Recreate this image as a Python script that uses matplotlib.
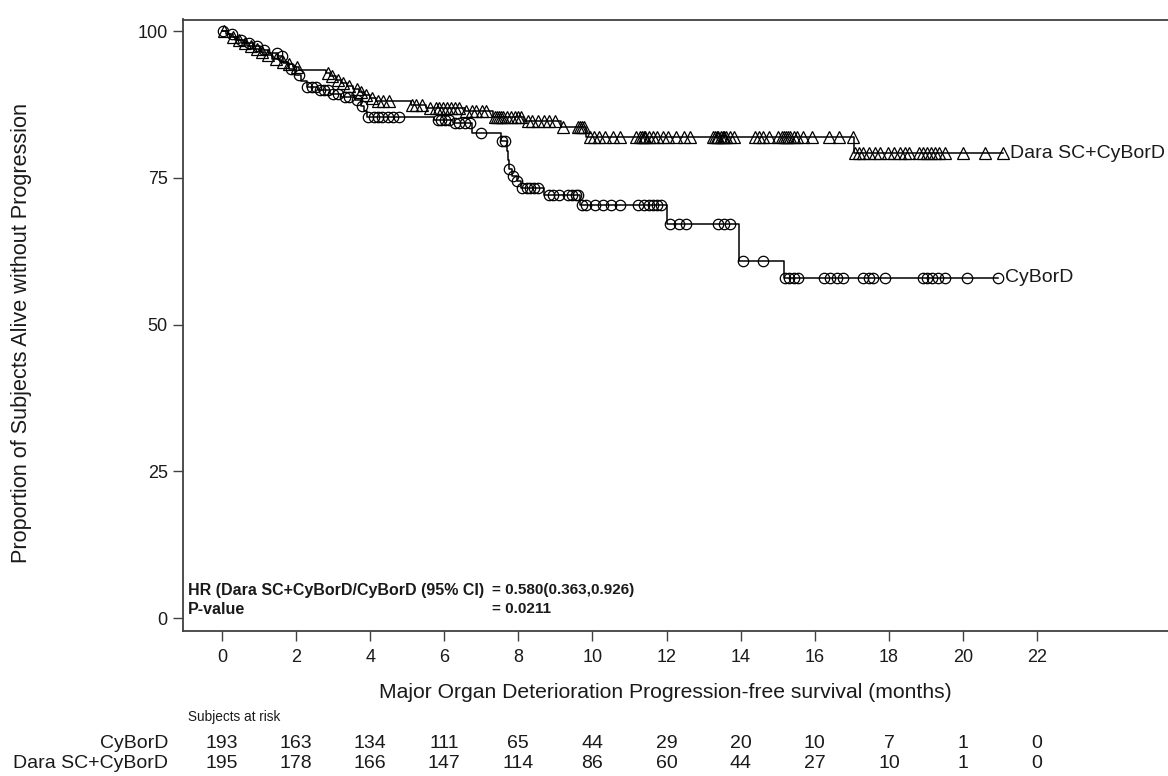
import numpy as np
import matplotlib
matplotlib.use("Agg")
import matplotlib.pyplot as plt
import matplotlib.transforms as mtransforms

plt.rcParams['font.family'] = ['Liberation Sans', 'DejaVu Sans']

# ---------------- data ----------------
arms = ["CyBorD", "Dara SC+CyBorD"]

cyb_event_t = [0.16, 0.31, 0.47, 0.62, 0.83, 1.04, 1.25, 1.51, 1.66, 1.82, 1.97, 2.13, 2.29, 2.6, 2.91,
               3.22, 3.58, 3.74, 3.84, 3.91, 5.71, 6.23, 6.75, 7.52, 7.69, 7.72, 7.74, 7.82, 7.95,
               8.08, 8.68, 9.66, 12.02, 13.95, 15.16]
cyb_event_s = [99.5, 99.0, 98.4, 97.9, 97.4, 96.8, 96.3, 95.7, 94.6, 93.5, 92.5, 91.4, 90.5, 89.9, 89.3,
               88.7, 88.2, 87.2, 86.3, 85.3, 84.8, 84.3, 82.6, 81.3, 79.6, 78.1, 76.5, 75.3, 74.4,
               73.2, 72.1, 70.4, 67.1, 60.8, 58.0]
cyb_censor_t = [0.02, 0.26, 0.52, 0.73, 0.94, 1.14, 1.5, 1.61, 1.87, 2.08, 2.29, 2.44, 2.55, 2.65, 2.75,
                2.86, 3.01, 3.12, 3.32, 3.43, 3.64, 3.79, 3.95, 4.1, 4.21, 4.31, 4.47, 4.62, 4.78,
                5.82, 5.92, 6.03, 6.13, 6.29, 6.39, 6.55, 6.7, 6.99, 7.55, 7.64, 7.74, 7.85, 7.95,
                8.1, 8.23, 8.31, 8.42, 8.52, 8.83, 8.94, 9.09, 9.35, 9.45, 9.56, 9.61,
                9.71, 9.82, 10.08, 10.29, 10.49, 10.75, 11.22, 11.38, 11.53, 11.64, 11.74, 11.84,
                12.1, 12.34, 12.51, 13.4, 13.56, 13.71, 14.06, 14.6,
                15.19, 15.31, 15.43, 15.55, 16.25, 16.42, 16.6, 16.76, 17.3, 17.46, 17.56, 17.89,
                18.91, 19.03, 19.17, 19.32, 19.52, 20.11, 20.95]

dara_event_t = [0.1, 0.21, 0.36, 0.52, 0.68, 0.83, 0.99, 1.14, 1.35, 1.56, 1.77, 1.92, 2.08, 2.81, 2.91,
                3.07, 3.22, 3.38, 3.53, 3.69, 3.84, 4.0, 4.16, 5.09, 5.51, 6.55, 7.32, 8.16, 9.14,
                9.83, 17.06]
dara_event_s = [99.5, 99.0, 98.5, 97.9, 97.4, 96.9, 96.4, 95.9, 95.3, 94.8, 94.3, 93.8, 93.3, 92.8, 92.3,
                91.7, 91.2, 90.7, 90.1, 89.6, 89.1, 88.6, 88.0, 87.4, 86.9, 86.4, 85.3, 84.6, 83.6,
                82.0, 79.2]
dara_censor_t = [0.05, 0.31, 0.47, 0.62, 0.78, 0.94, 1.09, 1.25, 1.45, 1.66, 1.82, 2.03, 2.86, 2.96, 3.12,
                 3.27, 3.43, 3.64, 3.74, 3.9, 4.05, 4.21, 4.36, 4.52, 5.14, 5.25, 5.4,
                 5.61, 5.77, 5.87, 5.97, 6.08, 6.18, 6.29, 6.39, 6.6, 6.75, 6.86, 7.01, 7.12,
                 7.38, 7.43, 7.48, 7.53, 7.58, 7.69, 7.79, 7.9, 8.0, 8.08,
                 8.26, 8.36, 8.52, 8.68, 8.83, 8.99, 9.2, 9.61, 9.66, 9.71, 9.77,
                 9.92, 10.03, 10.18, 10.34, 10.55, 10.75, 11.17, 11.27, 11.33, 11.38, 11.43, 11.53,
                 11.64, 11.74, 11.9, 12.05, 12.26, 12.47, 12.62, 13.25, 13.3, 13.35, 13.4, 13.46,
                 13.51, 13.56, 13.61, 13.71, 13.82, 14.39, 14.49, 14.6, 14.75, 15.01, 15.12, 15.17,
                 15.22, 15.27, 15.32, 15.43, 15.53, 15.69, 15.91, 16.39, 16.65, 17.03,
                 17.09, 17.2, 17.3, 17.46, 17.61, 17.77, 17.97, 18.13, 18.29, 18.44, 18.55,
                 18.82, 18.93, 19.03, 19.14, 19.24, 19.35, 19.51, 20.0, 20.58, 21.07]

risk_times = [0, 2, 4, 6, 8, 10, 12, 14, 16, 18, 20, 22]
risk_cyb = [193, 163, 134, 111, 65, 44, 29, 20, 10, 7, 1, 0]
risk_dara = [195, 178, 166, 147, 114, 86, 60, 44, 27, 10, 1, 0]

y_ticks = [0, 25, 50, 75, 100]
hr_label = "HR (Dara SC+CyBorD/CyBorD (95% CI)"
hr_value = "= 0.580(0.363,0.926)"
p_label = "P-value"
p_value = "= 0.0211"

# ---------------- figure ----------------
W, H = 1168, 776
fig = plt.figure(figsize=(W / 100, H / 100), dpi=100)
ax = fig.add_axes([183 / W, 1 - 631 / H, 1 - 183 / W, (631 - 19.5) / H])

TXT = '#1a1a1a'
AX = '#404040'


def km_draw(ev_t, ev_s, cen_t, marker, ms, label):
    t = np.concatenate([[0.0], ev_t])
    s = np.concatenate([[100.0], ev_s])
    end = max(cen_t[-1], ev_t[-1])
    xs = np.concatenate([t, [end]])
    ys = np.concatenate([s, [s[-1]]])
    ax.step(xs, ys, where='post', color='black', lw=1.1, zorder=3)
    idx = np.searchsorted(ev_t, cen_t, side='right')
    cy = s[idx]
    ax.plot(cen_t, cy, ls='none', marker=marker, ms=ms, mfc='none', mec='black',
            mew=0.9, zorder=4)
    ax.annotate(label, xy=(end, s[-1]), xytext=(5, 0), textcoords='offset points',
                va='center', ha='left', fontsize=14, color=TXT)


km_draw(cyb_event_t, cyb_event_s, cyb_censor_t, 'o', 7.5, arms[0])
km_draw(dara_event_t, dara_event_s, dara_censor_t, '^', 8, arms[1])

ax.set_xlim(-1.05, 25.53)
ax.set_ylim(-2.2, 101.96)
ax.set_xticks(risk_times)
ax.set_yticks(y_ticks)
ax.tick_params(axis='both', direction='out', length=7, width=1, color=AX,
               labelsize=13, labelcolor=TXT, pad=6)
ax.tick_params(axis='y', pad=4)
for sp in ['left', 'bottom', 'top']:
    ax.spines[sp].set_color(AX)
    ax.spines[sp].set_linewidth(1.3)
ax.spines['right'].set_visible(False)

# HR text
for txt, x, y, fs in [(hr_label, 188, 590, 11.5), (hr_value, 492, 590, 11),
                      (p_label, 188, 609, 11.5), (p_value, 492, 609, 11)]:
    fig.text(x / W, 1 - y / H, txt, fontsize=fs, fontweight='bold', color=TXT,
             va='center', ha='left')

# axis labels
fig.text(665 / W, 1 - 693 / H, "Major Organ Deterioration Progression-free survival (months)",
         fontsize=15.2, color=TXT, ha='center', va='center')
fig.text(22 / W, 1 - 333 / H, "Proportion of Subjects Alive without Progression",
         fontsize=15.6, color=TXT, ha='center', va='center', rotation=90)

# at-risk table
fig.text(188 / W, 1 - 717 / H, "Subjects at risk", fontsize=9.8, color=TXT, ha='left', va='center')
fig.text(168 / W, 1 - 744 / H, arms[0], fontsize=14, color=TXT, ha='right', va='center')
fig.text(168 / W, 1 - 764 / H, arms[1], fontsize=14, color=TXT, ha='right', va='center')
trans = mtransforms.blended_transform_factory(ax.transData, fig.transFigure)
for t, a, b in zip(risk_times, risk_cyb, risk_dara):
    fig.text(t, 1 - 744 / H, str(a), fontsize=14, color=TXT, ha='center', va='center',
             transform=trans)
    fig.text(t, 1 - 764 / H, str(b), fontsize=14, color=TXT, ha='center', va='center',
             transform=trans)

fig.savefig("out.png", dpi=100, facecolor='white')
